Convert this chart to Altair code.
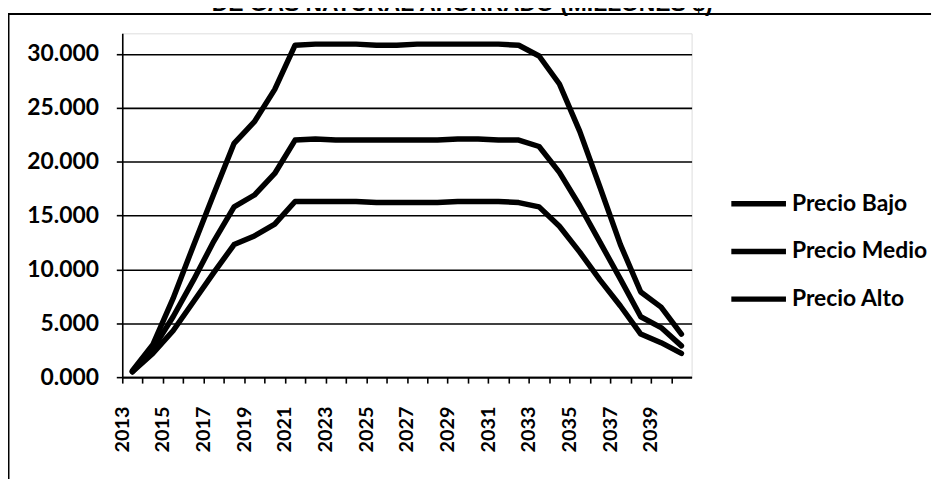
import altair as alt
import pandas as pd

years = list(range(2013, 2041))
bajo = [0.6, 3.0, 7.3, 12.2, 17.0, 21.7, 23.7, 26.7, 30.8, 30.9, 30.9, 30.9, 30.8,
        30.8, 30.9, 30.9, 30.9, 30.9, 30.9, 30.8, 29.8, 27.2, 22.8, 17.6, 12.3, 7.9, 6.5, 4.0]
medio = [0.5, 2.6, 5.6, 9.0, 12.6, 15.8, 16.9, 18.9, 22.0, 22.1, 22.0, 22.0, 22.0,
         22.0, 22.0, 22.0, 22.1, 22.1, 22.0, 22.0, 21.4, 19.0, 15.9, 12.5, 9.1, 5.6, 4.6, 2.9]
alto = [0.5, 2.2, 4.3, 7.0, 9.7, 12.3, 13.1, 14.2, 16.3, 16.3, 16.3, 16.3, 16.2,
        16.2, 16.2, 16.2, 16.3, 16.3, 16.3, 16.2, 15.8, 14.0, 11.6, 9.0, 6.6, 4.0, 3.2, 2.2]
series = ["Precio Bajo", "Precio Medio", "Precio Alto"]
title = "DE GAS NATURAL AHORRADO (MILLONES $)"
y_ticks = [0, 5, 10, 15, 20, 25, 30]

rows = []
for name, vals in zip(series, [bajo, medio, alto]):
    for yr, v in zip(years, vals):
        rows.append({"year": yr, "value": v, "serie": name})
df = pd.DataFrame(rows)

FONT = "Lato"

lines = alt.Chart(df).mark_line(strokeWidth=5.5, strokeJoin="round", strokeCap="round").encode(
    x=alt.X("year:Q",
            scale=alt.Scale(domain=[2012.5, 2040.5], nice=False, zero=False),
            axis=alt.Axis(title=None, values=years + [2041], format="d",
                          labelExpr="datum.value % 2 == 1 && datum.value < 2041 ? datum.label : ''",
                          labelAngle=-90, labelOverlap=False, labelBound=False,
                          tickOffset=-10.23, tickSize=6, tickWidth=1.6, tickColor="black",
                          domainColor="black", domainWidth=1.6, grid=False,
                          labelPadding=23, labelFont=FONT, labelFontSize=20,
                          labelFontWeight="bold", labelColor="black")),
    y=alt.Y("value:Q",
            scale=alt.Scale(domain=[0, 31.9], nice=False),
            axis=alt.Axis(title=None, values=y_ticks, format=".3f", grid=True,
                          gridColor="black", gridWidth=1.6, tickSize=6, tickWidth=1.6,
                          tickColor="black", domainColor="black", domainWidth=1.6,
                          labelPadding=18, labelFont=FONT, labelFontSize=23,
                          labelFontWeight="bold", labelColor="black")),
    color=alt.Color("serie:N", sort=series,
                    scale=alt.Scale(domain=series, range=["black", "black", "black"]),
                    legend=alt.Legend(title=None, orient="none", legendX=610, legendY=141,
                                      symbolType="stroke", symbolSize=3025,
                                      symbolStrokeWidth=5.5, symbolStrokeColor="black",
                                      labelFont=FONT, labelFontSize=23,
                                      labelFontWeight="bold", labelColor="black",
                                      labelOffset=3, rowPadding=5, padding=0)),
    detail="serie:N",
)

title_df = pd.DataFrame({"t": [title]})
title_mark = alt.Chart(title_df).mark_text(
    font="Liberation Sans", fontSize=23, fontWeight="bold", color="black",
    align="center", baseline="alphabetic"
).encode(text="t:N", x=alt.value(342), y=alt.value(-22))

left_df = pd.DataFrame({"k": [0]})
top_df = pd.DataFrame({"k": [1]})
left_border = alt.Chart(left_df).mark_rect(color="black").encode(
    x=alt.value(-115.5), x2=alt.value(-113.5), y=alt.value(-20.5), y2=alt.value(460))
top_border = alt.Chart(top_df).mark_rect(color="black").encode(
    x=alt.value(-115.5), x2=alt.value(814), y=alt.value(-20.5), y2=alt.value(-18.5))

chart = alt.layer(lines, title_mark, left_border, top_border).properties(
    width=573, height=346,
    padding={"left": 115, "top": 24, "right": 247, "bottom": 101},
    autosize=alt.AutoSizeParams(type="none"),
).configure_view(stroke=None).configure(background="white")

chart.save("out.html", embed_options={"renderer": "svg", "actions": False})
